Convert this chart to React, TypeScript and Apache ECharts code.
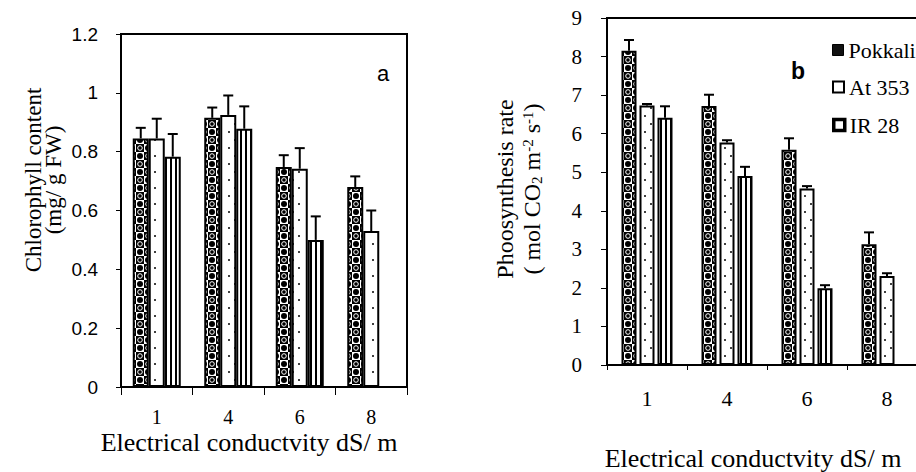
import React, { useEffect, useRef } from "react";
import * as echarts from "echarts";

const categories = ["1", "4", "6", "8"];
const seriesNames = ["Pokkali", "At 353", "IR 28"];

// Chart a: chlorophyll content (mg/ g FW)
const chlPokkali = [0.845, 0.915, 0.748, 0.68];
const chlPokkaliErr = [0.036, 0.035, 0.04, 0.036];
const chlAt353 = [0.845, 0.925, 0.742, 0.53];
const chlAt353Err = [0.067, 0.066, 0.07, 0.07];
const chlIR28 = [0.783, 0.878, 0.5, null];
const chlIR28Err = [0.077, 0.076, 0.08, null];

// Chart b: photosynthesis rate
const phoPokkali = [8.15, 6.72, 5.58, 3.13];
const phoPokkaliErr = [0.28, 0.29, 0.3, 0.31];
const phoAt353 = [6.73, 5.77, 4.58, 2.31];
const phoAt353Err = [0.04, 0.06, 0.06, 0.07];
const phoIR28 = [6.41, 4.9, 1.99, null];
const phoIR28Err = [0.3, 0.24, 0.08, null];

const chlTicks = { min: 0, max: 1.2, interval: 0.2 };
const phoTicks = { min: 0, max: 9, interval: 1 };

const SERIF = "Liberation Serif";
const SANS = "Liberation Sans";

function makeCanvas(w: number, h: number, draw: (c: CanvasRenderingContext2D) => void) {
  const cv = document.createElement("canvas");
  cv.width = w;
  cv.height = h;
  const ctx = cv.getContext("2d")!;
  draw(ctx);
  return cv;
}

function patterns() {
  const pokkali = makeCanvas(16, 16, (c) => {
    c.fillStyle = "#fff";
    c.fillRect(0, 0, 16, 16);
    c.fillStyle = "#000";
    c.fillRect(8, 0, 8, 8);
    c.fillRect(0, 8, 8, 8);
    c.beginPath();
    c.arc(4, 4, 3, 0, Math.PI * 2);
    c.fill();
    c.beginPath();
    c.arc(12, 12, 3, 0, Math.PI * 2);
    c.fill();
    c.strokeStyle = "#fff";
    c.lineWidth = 1;
    c.beginPath();
    c.arc(12, 4, 2.3, 0, Math.PI * 2);
    c.stroke();
    c.beginPath();
    c.arc(4, 12, 2.3, 0, Math.PI * 2);
    c.stroke();
  });
  const at353 = makeCanvas(16, 16, (c) => {
    c.fillStyle = "#fff";
    c.fillRect(0, 0, 16, 16);
    c.fillStyle = "#000";
    c.beginPath();
    c.arc(5, 4, 1, 0, Math.PI * 2);
    c.fill();
    c.beginPath();
    c.arc(11, 12, 1, 0, Math.PI * 2);
    c.fill();
  });
  const ir28 = makeCanvas(5, 4, (c) => {
    c.fillStyle = "#fff";
    c.fillRect(0, 0, 5, 4);
    c.fillStyle = "#000";
    c.fillRect(0, 0, 2, 4);
  });
  return [pokkali, at353, ir28];
}

function errSeries(
  xAxisIndex: number,
  yAxisIndex: number,
  vals: (number | null)[],
  errs: (number | null)[],
  offset: number
) {
  const data: number[][] = [];
  vals.forEach((v, i) => {
    if (v != null && errs[i] != null) data.push([i, v, errs[i] as number]);
  });
  return {
    type: "custom",
    xAxisIndex,
    yAxisIndex,
    z: 5,
    silent: true,
    data,
    renderItem: (params: any, api: any) => {
      const i = api.value(0);
      const v = api.value(1);
      const e = api.value(2);
      const p0 = api.coord([i, v]);
      const p1 = api.coord([i, v + e]);
      const x = p0[0] + offset;
      return {
        type: "group",
        children: [
          {
            type: "line",
            shape: { x1: x, y1: p0[1], x2: x, y2: p1[1] },
            style: { stroke: "#000", lineWidth: 2 },
          },
          {
            type: "line",
            shape: { x1: x - 5, y1: p1[1], x2: x + 5, y2: p1[1] },
            style: { stroke: "#000", lineWidth: 2 },
          },
        ],
      };
    },
  };
}

export default function App() {
  const ref = useRef<HTMLDivElement>(null);

  useEffect(() => {
    if (!ref.current) return;
    const chart = echarts.init(ref.current, null, { renderer: "svg" });
    const [pPok, pAt, pIR] = patterns();
    const fills = [
      { image: pPok, repeat: "repeat" },
      { image: pAt, repeat: "repeat" },
      { image: pIR, repeat: "repeat" },
    ];

    const chlVals = [chlPokkali, chlAt353, chlIR28];
    const chlErrs = [chlPokkaliErr, chlAt353Err, chlIR28Err];
    const phoVals = [phoPokkali, phoAt353, phoIR28];
    const phoErrs = [phoPokkaliErr, phoAt353Err, phoIR28Err];

    const barsA = chlVals.map((vals, k) => ({
      name: seriesNames[k],
      type: "bar",
      xAxisIndex: 0,
      yAxisIndex: 0,
      data: vals.map((v) => (v == null ? "-" : v)),
      barWidth: 16,
      barGap: "0%",
      itemStyle: { color: fills[k] as any, borderColor: "#000", borderWidth: 2 },
    }));
    const barsB = phoVals.map((vals, k) => ({
      name: seriesNames[k],
      type: "bar",
      xAxisIndex: 1,
      yAxisIndex: 1,
      data: vals.map((v) => (v == null ? "-" : v)),
      barWidth: 15,
      barGap: "20%",
      itemStyle: { color: fills[k] as any, borderColor: "#000", borderWidth: 2 },
    }));
    const errA = chlVals.map((vals, k) => errSeries(0, 0, vals, chlErrs[k], (k - 1) * 16));
    const errB = phoVals.map((vals, k) => errSeries(1, 1, vals, phoErrs[k], (k - 1) * 18));

    const axisLine = { show: true, lineStyle: { color: "#000", width: 2 } };

    const legendIconStyles = [
      { color: "#111", borderColor: "#000", borderWidth: 1 },
      { color: "#fff", borderColor: "#000", borderWidth: 2 },
      { color: "#fff", borderColor: "#000", borderWidth: 3.5 },
    ];
    const legendTops = [39, 76, 114];
    const legends = seriesNames.map((n, k) => ({
      data: [{ name: n, itemStyle: legendIconStyles[k] }],
      left: 832,
      top: legendTops[k],
      padding: 0,
      itemWidth: 11,
      itemHeight: 11,
      icon: "rect",
      selectedMode: false,
      textStyle: { fontFamily: SERIF, fontSize: 22, color: "#000" },
    }));

    chart.setOption({
      animation: false,
      backgroundColor: "#fff",
      legend: legends,
      grid: [
        { left: 121, top: 34, width: 286, height: 353, show: true, borderColor: "#000", borderWidth: 2, backgroundColor: "transparent" },
        { left: 607, top: 18, width: 320, height: 347, show: true, borderColor: "#000", borderWidth: 2, backgroundColor: "transparent" },
      ],
      xAxis: [
        {
          type: "category",
          gridIndex: 0,
          data: categories,
          axisLine,
          axisTick: { show: true, length: 8, lineStyle: { color: "#000", width: 1 } },
          axisLabel: { color: "#000", fontFamily: SERIF, fontSize: 20, margin: 20 },
        },
        {
          type: "category",
          gridIndex: 1,
          data: categories,
          axisLine,
          axisTick: { show: true, length: 5, lineStyle: { color: "#000", width: 1 } },
          axisLabel: { color: "#000", fontFamily: SERIF, fontSize: 22, margin: 22 },
        },
      ],
      yAxis: [
        {
          type: "value",
          gridIndex: 0,
          ...chlTicks,
          axisLine,
          splitLine: { show: false },
          axisTick: { show: true, length: 5, lineStyle: { color: "#000", width: 1 } },
          axisLabel: { color: "#000", fontFamily: SANS, fontSize: 19, margin: 23 },
        },
        {
          type: "value",
          gridIndex: 1,
          ...phoTicks,
          axisLine,
          splitLine: { show: false },
          axisTick: { show: true, length: 6, lineStyle: { color: "#000", width: 1 } },
          axisLabel: { color: "#000", fontFamily: SERIF, fontSize: 21, margin: 25 },
        },
      ],
      graphic: [
        {
          type: "text",
          x: 33,
          y: 180,
          rotation: Math.PI / 2,
          style: { text: "Chlorophyll content", fontFamily: SERIF, fontSize: 23, fill: "#000", align: "center", verticalAlign: "middle" },
        },
        {
          type: "text",
          x: 53,
          y: 180,
          rotation: Math.PI / 2,
          style: { text: "(mg/ g FW)", fontFamily: SERIF, fontSize: 23, fill: "#000", align: "center", verticalAlign: "middle" },
        },
        {
          type: "text",
          x: 249,
          y: 442,
          style: { text: "Electrical conductvity dS/ m", fontFamily: SERIF, fontSize: 26, fill: "#000", align: "center", verticalAlign: "middle" },
        },
        {
          type: "text",
          x: 383,
          y: 73,
          style: { text: "a", fontFamily: SANS, fontSize: 22, fill: "#000", align: "center", verticalAlign: "middle" },
        },
        {
          type: "text",
          x: 505,
          y: 189,
          rotation: Math.PI / 2,
          style: { text: "Phoosynthesis rate", fontFamily: SERIF, fontSize: 24, fill: "#000", align: "center", verticalAlign: "middle" },
        },
        {
          type: "text",
          x: 532,
          y: 189,
          rotation: Math.PI / 2,
          style: {
            text: "( mol CO{sub|2} m{sup|-2} s{sup|-1})",
            fontFamily: SERIF,
            fontSize: 24,
            fill: "#000",
            align: "center",
            verticalAlign: "middle",
            rich: {
              sub: { fontFamily: SERIF, fontSize: 15, verticalAlign: "bottom", fill: "#000", padding: [8, 0, 0, 0] },
              sup: { fontFamily: SERIF, fontSize: 15, verticalAlign: "top", fill: "#000", padding: [0, 0, 8, 0] },
            },
          },
        },
        {
          type: "text",
          x: 753,
          y: 458,
          style: { text: "Electrical conductvity dS/ m", fontFamily: SERIF, fontSize: 26, fill: "#000", align: "center", verticalAlign: "middle" },
        },
        {
          type: "text",
          x: 798,
          y: 71,
          style: { text: "b", fontFamily: SANS, fontSize: 23, fontWeight: "bold", fill: "#000", align: "center", verticalAlign: "middle" },
        },
      ],
      series: [...barsA, ...barsB, ...errA, ...errB],
    });

    return () => chart.dispose();
  }, []);

  return (
    <div
      style={{
        position: "fixed",
        left: 0,
        top: 0,
        width: 916,
        height: 472,
        overflow: "hidden",
        background: "#fff",
      }}
    >
      <div ref={ref} style={{ width: 960, height: 472 }} />
    </div>
  );
}
